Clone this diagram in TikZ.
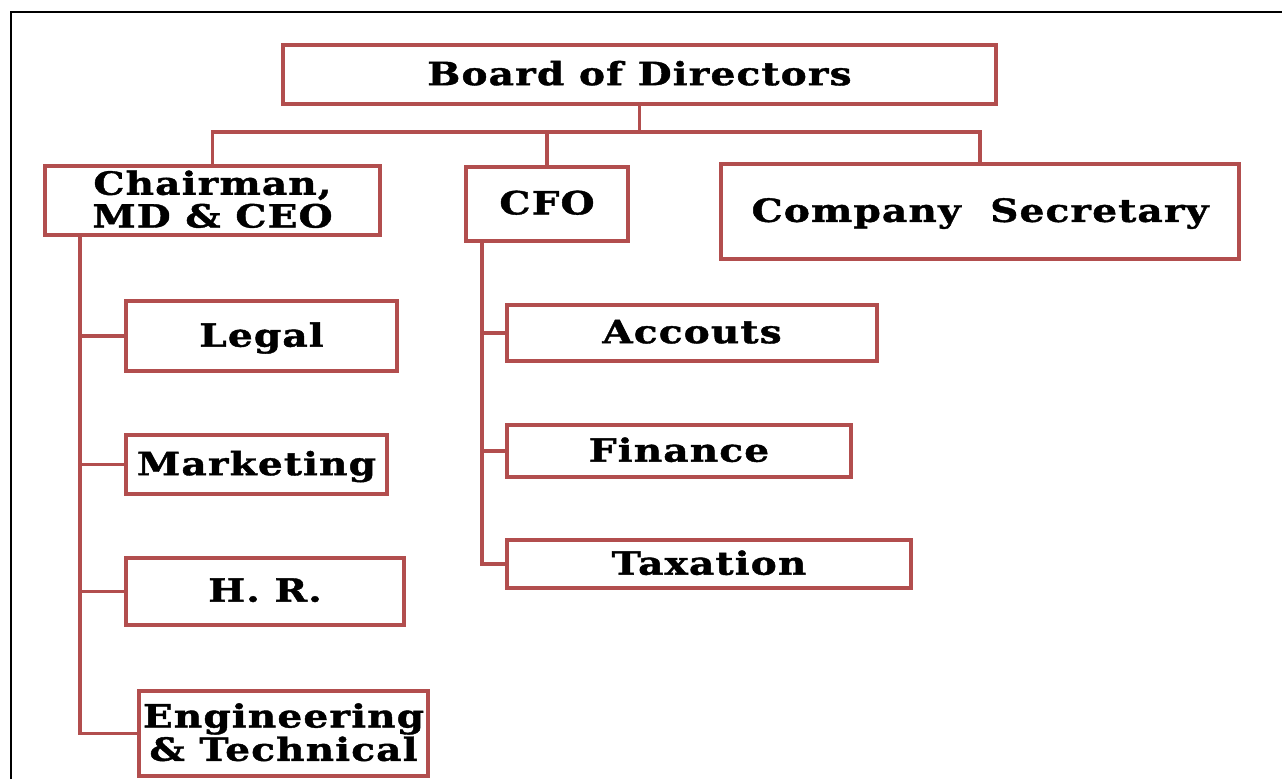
\documentclass[tikz,border=0pt]{standalone}
\usepackage{fontspec}
\usepackage{graphicx}
\newfontfamily\bk[LetterSpace=3, BoldFeatures={FakeBold=1.2}]{DejaVu Serif}
\definecolor{brd}{RGB}{178,78,78}
\newcommand\sx{1.22}
\newcommand\txt[1]{\raisebox{-3pt}[\height][\depth]{\scalebox{\sx}[1]{\begin{tabular}{@{}c@{}}#1\end{tabular}}}}
\begin{document}
\begin{tikzpicture}[x=1pt,y=-1pt,
  box/.style={draw=brd, line width=3.6pt, inner sep=0pt, fill=white,
    font=\bk\bfseries\fontsize{32}{30}\selectfont},
  conn/.style={draw=brd, line width=3.4pt}]
\useasboundingbox (0,0) rectangle (1282,779);
\coordinate (fa) at (11,779);
\coordinate (fb) at (11,12);
\coordinate (fc) at (1282,12);
\draw[line width=1.5pt] (fa) -- (fb) -- (fc);

\node[box, minimum width=713pt, minimum height=59pt] (board) at (639.5,74.5) {\txt{Board of Directors}};
\node[box, minimum width=335pt, minimum height=69pt] (chair) at (212.5,200.5) {\txt{Chairman,\\MD \& CEO}};
\node[box, minimum width=162pt, minimum height=74pt] (cfo) at (547,204) {\txt{CFO}};
\node[box, minimum width=518pt, minimum height=95pt] (cs) at (980,211.5) {\txt{Company~~Secretary}};
\node[box, minimum width=271pt, minimum height=70pt] (legal) at (261.5,336) {\txt{Legal}};
\node[box, minimum width=261pt, minimum height=59pt] (mkt) at (256.5,464.5) {\txt{Marketing}};
\node[box, minimum width=278pt, minimum height=67pt] (hr) at (265,591.5) {\txt{H. R.}};
\node[box, minimum width=289pt, minimum height=85pt] (eng) at (283.5,733.5) {\txt{Engineering\\\& Technical}};
\node[box, minimum width=370pt, minimum height=56pt] (acc) at (692,333) {\txt{Accouts}};
\node[box, minimum width=344pt, minimum height=52pt] (fin) at (679,451) {\txt{Finance}};
\node[box, minimum width=404pt, minimum height=48pt] (tax) at (709,564) {\txt{Taxation}};

\coordinate (j) at (639.5,132);
\draw[conn] (board.south) -- (j);
\draw[conn] (chair.north) |- (j);
\draw[conn] (cfo.north) |- (j);
\draw[conn] (cs.north) |- (j);

\coordinate (sp1) at (80,235);
\draw[conn] (sp1) |- (eng.west);
\draw[conn] (legal.west) -- (legal.west -| sp1);
\draw[conn] (mkt.west) -- (mkt.west -| sp1);
\draw[conn] (hr.west) -- (hr.west -| sp1);

\coordinate (sp2) at (482,241);
\draw[conn] (sp2) |- (tax.west);
\draw[conn] (acc.west) -- (acc.west -| sp2);
\draw[conn] (fin.west) -- (fin.west -| sp2);
\end{tikzpicture}
\end{document}
